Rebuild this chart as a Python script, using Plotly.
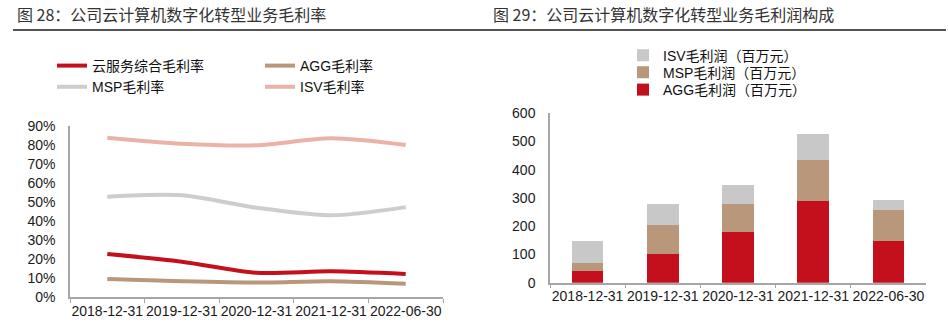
import plotly.graph_objects as go

W, H = 948, 324

categories = ["2018-12-31", "2019-12-31", "2020-12-31", "2021-12-31", "2022-06-30"]

# Left chart: gross margin (%)
composite_margin = [0.227, 0.187, 0.129, 0.136, 0.122]
agg_margin = [0.096, 0.084, 0.077, 0.084, 0.071]
msp_margin = [0.528, 0.535, 0.470, 0.430, 0.473]
isv_margin = [0.837, 0.805, 0.797, 0.834, 0.799]

# Right chart: gross profit (million yuan)
agg_profit = [41, 103, 180, 288, 148]
msp_profit = [28, 100, 98, 146, 109]
isv_profit = [77, 75, 67, 91, 37]

left_title = "图 28：公司云计算机数字化转型业务毛利率"
right_title = "图 29：公司云计算机数字化转型业务毛利润构成"

RED = "#C40F1D"
TAN = "#B9977A"
GRAY = "#C8C8C8"
PINK = "#EBB3A7"

FONT = "Liberation Sans, Arial, Noto Sans CJK SC, sans-serif"
CJK = "Noto Sans CJK SC, sans-serif"

def px_x(p):
    return p / W

def px_y(p):
    return (H - p) / H

fig = go.Figure()

line_specs = [
    ("云服务综合毛利率", composite_margin, RED, "legend"),
    ("AGG毛利率", agg_margin, TAN, "legend2"),
    ("MSP毛利率", msp_margin, "#CDCDCD", "legend"),
    ("ISV毛利率", isv_margin, PINK, "legend2"),
]
for name, vals, col, lg in line_specs:
    fig.add_trace(go.Scatter(
        x=categories, y=vals, name=name, mode="lines",
        line=dict(color=col, width=4, shape="spline", smoothing=0.8),
        xaxis="x", yaxis="y", legend=lg,
    ))

bar_specs = [
    ("AGG毛利润（百万元）", agg_profit, RED, "legend5", 90),
    ("MSP毛利润（百万元）", msp_profit, TAN, "legend4", 72.7),
    ("ISV毛利润（百万元）", isv_profit, GRAY, "legend3", 55.7),
]
for name, vals, col, lg, _ in bar_specs:
    fig.add_trace(go.Bar(
        x=categories, y=vals, name=name, marker=dict(color=col, line=dict(width=0)),
        xaxis="x2", yaxis="y2", legend=lg,
    ))

axis_col = "#A6A6A6"
tickfont = dict(family=FONT, size=14, color="#1a1a1a")

common_x = dict(type="category", showline=True, linecolor=axis_col, linewidth=1.5,
                ticks="outside", ticklen=4, tickcolor=axis_col, tickson="boundaries",
                showgrid=False, tickfont=tickfont, tickangle=0, automargin=False,
                range=[-0.5, 4.5])
common_y = dict(showline=True, linecolor=axis_col, linewidth=1.5,
                showgrid=False, zeroline=False, tickfont=tickfont,
                ticklabelstandoff=10, automargin=False)

legend_font = dict(family=FONT, size=14, color="#111")

layout_legends = dict(
    legend=dict(x=px_x(52), y=px_y(50), xanchor="left", yanchor="top",
                orientation="v", font=legend_font, bgcolor="rgba(0,0,0,0)"),
    legend2=dict(x=px_x(260), y=px_y(50), xanchor="left", yanchor="top",
                 orientation="v", font=legend_font, bgcolor="rgba(0,0,0,0)"),
)
for name, vals, col, lg, ypix in bar_specs:
    layout_legends[lg] = dict(x=px_x(623), y=px_y(ypix), xanchor="left", yanchor="middle",
                              orientation="v", font=legend_font, bgcolor="rgba(0,0,0,0)")

fig.update_layout(
    width=W, height=H,
    margin=dict(l=0, r=0, t=0, b=0, autoexpand=False),
    paper_bgcolor="white", plot_bgcolor="white",
    barmode="stack", bargap=0.58,
    showlegend=True,
    xaxis=dict(domain=[px_x(70), px_x(443)], anchor="y", **common_x),
    yaxis=dict(domain=[px_y(297.3), px_y(125.7)], range=[0, 0.9], dtick=0.1,
               tickformat=".0%", anchor="x", **common_y),
    xaxis2=dict(domain=[px_x(550), px_x(926)], anchor="y2", **common_x),
    yaxis2=dict(domain=[px_y(282.7), px_y(113.3)], range=[0, 600], dtick=100,
                anchor="x2", **common_y),
    **layout_legends,
)

fig.add_annotation(text=left_title, x=px_x(15), y=px_y(14), xref="paper", yref="paper",
                   xanchor="left", yanchor="middle", showarrow=False,
                   font=dict(family=CJK, size=16, color="#333"))
fig.add_annotation(text=right_title, x=px_x(491), y=px_y(14), xref="paper", yref="paper",
                   xanchor="left", yanchor="middle", showarrow=False,
                   font=dict(family=CJK, size=16, color="#333"))
fig.add_shape(type="line", xref="paper", yref="paper",
              x0=px_x(13), x1=px_x(946), y0=px_y(30), y1=px_y(30),
              line=dict(color="#1a1a1a", width=1.5))

fig.write_html("out.html")
